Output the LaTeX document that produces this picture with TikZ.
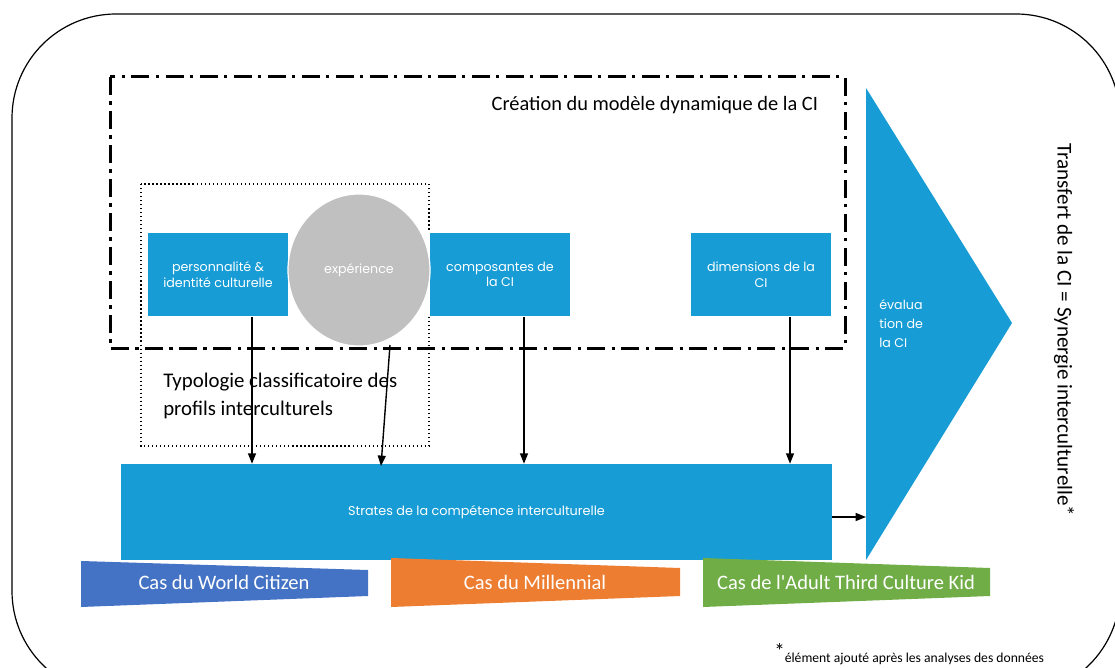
\documentclass[tikz,border=0pt]{standalone}
\usepackage{fontspec}
\setmainfont{Carlito}
\newfontfamily\boxfont{Poppins}
\usetikzlibrary{positioning,calc,arrows.meta,shapes.geometric}
\definecolor{ciblue}{RGB}{23,156,213}
\definecolor{cigray}{RGB}{192,192,192}
\definecolor{casblue}{RGB}{68,114,196}
\definecolor{casorange}{RGB}{237,125,49}
\definecolor{casgreen}{RGB}{112,173,71}
\tikzset{
  cibox/.style={fill=ciblue, draw=white, line width=.3mm, minimum width=3.55cm, minimum height=2.1cm,
    align=center, text=white, font=\boxfont\fontsize{9}{11}\selectfont, inner sep=0pt},
  arr/.style={-{Triangle[length=2.6mm,width=2mm]}, line width=.35mm},
  castext/.style={text=white, font=\fontsize{14.6}{16}\selectfont}
}
\begin{document}
\begin{tikzpicture}[x=0.025cm, y=-0.025cm]
    \useasboundingbox (0,0) rectangle (1115,668);
    % cadre general
        \draw[line width=.3mm, rounded corners=2.6cm] (12,14) rectangle (1120,695);

    % modele dynamique
        \draw[line width=.75mm, dash pattern=on 4.5mm off 1.6mm on .8mm off 1.6mm] (110,77) rectangle (845,348);
        \node[anchor=east, font=\fontsize{14.5}{17}\selectfont] (titre) at (823,105) {Création du modèle dynamique de la CI};

    % typologie
        \draw[line width=.3mm, dotted] (141,184) rectangle (429,446);
        \node[anchor=north west, align=left, font=\fontsize{14.8}{20}\selectfont, inner sep=0pt] (typo) at (163,373)
            {Typologie classificatoire des\\profils interculturels};

    % fleche evaluation
        \fill[ciblue] (866,88) -- (1012,323) -- (866,560) -- cycle;
        \node[anchor=north west, align=left, text=white, font=\boxfont\fontsize{9}{13.5}\selectfont, inner sep=0pt] (eval) at (879,299)
            {évalua\\tion de\\la CI};

    % composantes
        \node[cibox] (perso) at (218,274.5) {personnalité \&\\identité culturelle};
        \node[cibox] (compo) at (500,274.5) {composantes de\\la CI};
        \node[cibox] (dimen) at (761,274.5) {dimensions de la\\CI};
        \node[ellipse, fill=cigray, draw=white, line width=.3mm, minimum width=3.55cm, minimum height=3.8cm,
            text=white, font=\boxfont\fontsize{9}{11}\selectfont, inner sep=0pt] (exper) at (359,270) {expérience};

    % strates
        \node[fill=ciblue, minimum width=17.78cm, minimum height=2.4cm, text=white,
            font=\boxfont\fontsize{9.1}{11}\selectfont] (strates) at (476.5,512) {Strates de la compétence interculturelle};

    % fleches
        \draw[arr] ($(perso.south)+(34,0)$) -- ($(perso.south |- strates.north)+(34,0)$);
        \coordinate (expbas) at (390,345);
        \coordinate (expfin) at (381,466);
        \draw[arr] (expbas) -- (expfin);
        \draw[arr] ($(compo.south)+(24,0)$) -- ($(compo.south |- strates.north)+(24,0)$);
        \draw[arr] ($(dimen.south)+(29,0)$) -- ($(dimen.south |- strates.north)+(29,0)$);
        \coordinate (evalg) at (866,517);
        \draw[arr] (strates.east |- evalg) -- (evalg);

    % cas
        \fill[casblue] (81,561) -- (368,570) -- (368,596) -- (81,607) -- cycle;
        \node[castext] (world) at (224,582) {Cas du World Citizen};
        \fill[casorange] (391,558) -- (680,568) -- (680,596) -- (391,607) -- cycle;
        \node[castext] (mille) at (535,582) {Cas du Millennial};
        \fill[casgreen] (703,558) -- (990,568) -- (990,596) -- (703,607) -- cycle;
        \node[castext] (adult) at (846,582) {Cas de l\textquotesingle Adult Third Culture Kid};

    % transfert
        \node[rotate=-90, font=\fontsize{15}{17}\selectfont] (transfert) at (1064,330)
            {Transfert de la CI = Synergie interculturelle\raisebox{.15ex}{*}};

    % note
        \node[anchor=west, font=\fontsize{9.7}{11}\selectfont, inner sep=0pt] (note) at (774,654)
            {\raisebox{.6ex}{\fontsize{15}{15}\selectfont *}élément ajouté après les analyses des données};
\end{tikzpicture}
\end{document}
